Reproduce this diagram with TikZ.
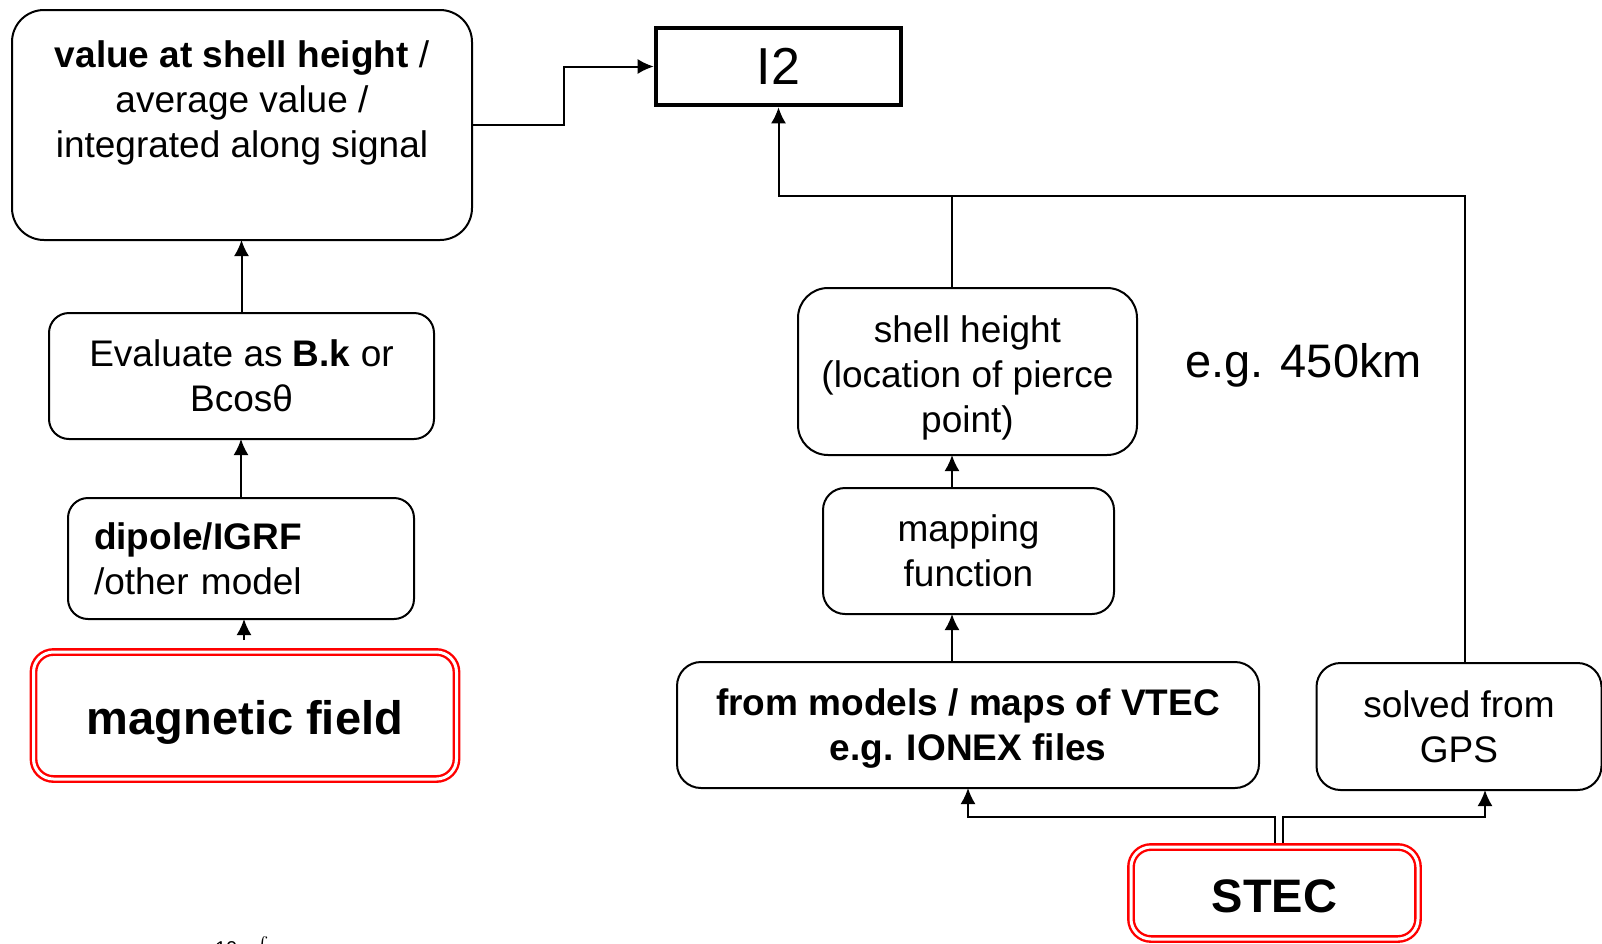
\documentclass[tikz,border=0pt]{standalone}
\usepackage{fontspec}
\setmainfont{Liberation Sans}
\usetikzlibrary{arrows.meta,calc}

% invisible strut that lowers a multi-line text block by half its extra height
\newcommand{\toppad}[1]{\rule{0pt}{#1}}

\begin{document}
\begin{tikzpicture}[x=0.5pt,y=-0.5pt,
  every node/.style={inner sep=0pt, outer sep=0pt},
  txt/.style={font=\fontsize{18.5}{22.5}\selectfont, align=center},
  box/.style={draw, line width=1pt, rounded corners=#1, txt},
  box/.default=11pt,
  redbox/.style={draw=red, line width=1.2pt, double=white, double distance=1.5pt,
    rounded corners=10pt, outer sep=2pt, font=\fontsize{23.5}{28}\selectfont\bfseries},
  arr/.style={line width=1pt, -{Latex[length=8pt,width=7.5pt]}},
  wire/.style={line width=1pt}
]
\useasboundingbox (0,0) rectangle (1602,943);

% ---- left branch: magnetic field ----
\node[box=16pt, minimum width=230pt, minimum height=115pt] (A) at (242,125)
  {\toppad{16.5pt}\textbf{value at shell height} /\\average value /\\integrated along signal\\\strut};
\node[draw, line width=2.3pt, outer sep=1.15pt, minimum width=122.5pt, minimum height=38.5pt,
  font=\fontsize{26}{30}\selectfont] (I2) at (778.5,66.5) {I2};
\node[box=10pt, minimum width=192.5pt, minimum height=63pt] (eval) at (241.5,376)
  {Evaluate as \textbf{B.k} or\\Bcosθ};
\node[box=10pt, minimum height=60.5pt, text width=147pt, inner xsep=13pt, align=left] (dip) at (241,558.5)
  {\textbf{dipole/IGRF}\\/other model};
\node[redbox, minimum width=211.5pt, minimum height=63.5pt, text height=24pt, text depth=5pt] (mag) at (245,715.5)
  {magnetic field};

% ---- right branch: STEC ----
\node[box=15pt, minimum width=169.5pt, minimum height=83.5pt] (shell) at (967.5,371.5)
  {\toppad{19.5pt}shell height\\(location of pierce\\point)};
\node[box=11pt, minimum width=145.5pt, minimum height=63pt] (map) at (968.5,551)
  {mapping\\function};
\node[box=12pt, minimum width=291pt, minimum height=63pt, font=\fontsize{18.5}{22.5}\selectfont\bfseries] (vtec) at (968,725)
  {\toppad{16.5pt}from models / maps of VTEC\\e.g. IONEX files};
\node[box=12pt, minimum width=142.5pt, minimum height=63.5pt] (gps) at (1459,726.5)
  {solved from\\GPS};
\node[redbox, minimum width=143.5pt, minimum height=46pt, text height=19.8pt, text depth=0pt] (stec) at (1274.5,893)
  {STEC};
\node[anchor=base, font=\fontsize{23.5}{28}\selectfont] (eg) at (1303.5,377) {e.g. 450km};
\node[anchor=base west, font=\fontsize{10}{12}\selectfont] (frag) at (215,955)
  {10\hspace{9pt}{\fontsize{15}{17}\selectfont$\int$}};

% ---- connectors ----
\coordinate (j1) at (564,96);
\draw[arr] (A.east) -| (j1) |- (I2.west);
\draw[arr] (eval.north) -- (eval.north |- A.south);
\draw[arr] (dip.north) -- (dip.north |- eval.south);
\draw[arr] ($(mag.north)+(-1,-8)$) -- ($(mag.north |- dip.south)+(-1,0)$);

\coordinate (t1) at (952,196);
\coordinate (t2) at (1465,196);
\draw[arr] (shell.north -| t1) -- (t1) -| (I2.south);
\draw[wire] (t1) -- (t2) -- (t2 |- gps.north);
\draw[arr] (map.north -| t1) -- (shell.south -| t1);
\draw[arr] (vtec.north -| t1) -- (map.south -| t1);

\coordinate (s1) at (1275,817);
\coordinate (s2) at (1283,817);
\coordinate (s3) at (1485,817);
\draw[arr] (stec.north -| s1) -- (s1) -| (vtec.south);
\draw[arr] (stec.north -| s2) -- (s2) -- (s3) -- (s3 |- gps.south);
\end{tikzpicture}
\end{document}
